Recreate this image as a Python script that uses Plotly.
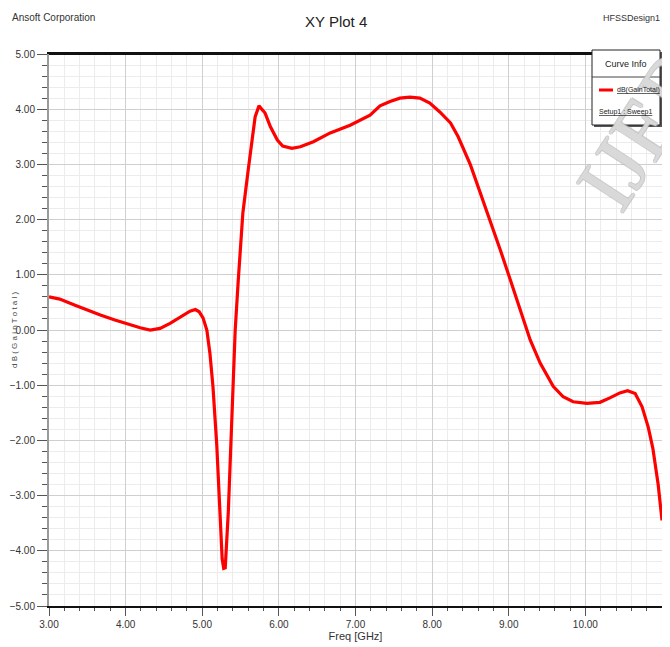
import plotly.graph_objects as go

freq = [3.00, 3.14, 3.34, 3.54, 3.67, 3.86, 4.06, 4.19, 4.32, 4.45, 4.58, 4.71, 4.84,
        4.91, 4.96, 5.01, 5.06, 5.10, 5.14, 5.19, 5.23, 5.26, 5.28, 5.30, 5.34, 5.39,
        5.43, 5.47, 5.53, 5.60, 5.65, 5.69, 5.74, 5.82, 5.89, 5.98, 6.05, 6.17, 6.28,
        6.45, 6.67, 6.93, 7.19, 7.32, 7.45, 7.58, 7.71, 7.84, 7.97, 8.10, 8.24, 8.34,
        8.50, 8.69, 8.89, 9.02, 9.15, 9.28, 9.41, 9.48, 9.58, 9.71, 9.84, 10.02, 10.19,
        10.32, 10.45, 10.55, 10.65, 10.74, 10.82, 10.88, 10.95, 11.00]
gain = [0.60, 0.56, 0.45, 0.34, 0.27, 0.18, 0.09, 0.04, 0.00, 0.03, 0.12, 0.23, 0.34,
        0.37, 0.33, 0.22, 0.00, -0.42, -1.03, -2.10, -3.30, -4.15, -4.32, -4.31, -3.30, -1.63,
        0.00, 0.90, 2.12, 2.90, 3.44, 3.86, 4.06, 3.93, 3.68, 3.44, 3.33, 3.29, 3.32,
        3.41, 3.57, 3.71, 3.89, 4.06, 4.14, 4.20, 4.22, 4.20, 4.11, 3.95, 3.75, 3.50,
        2.99, 2.26, 1.45, 0.91, 0.36, -0.18, -0.60, -0.78, -1.02, -1.21, -1.30, -1.33, -1.31,
        -1.23, -1.14, -1.10, -1.15, -1.39, -1.76, -2.14, -2.80, -3.45]

x_ticks = [3, 4, 5, 6, 7, 8, 9, 10, 11]
y_ticks = [-5, -4, -3, -2, -1, 0, 1, 2, 3, 4, 5]

FONT = "Liberation Sans Narrow, Arial Narrow, Liberation Sans, sans-serif"
OFF = 8  # page body margin offset
W, H = 670 - OFF, 647 - OFF
L, R, T, B = 49 - OFF, 8, 54 - OFF, 41
pw, ph = W - L - R, H - T - B


def px(x):
    return (x - OFF - L) / pw


def py(y):
    return (H - B - (y - OFF)) / ph


fig = go.Figure()
fig.add_trace(go.Scatter(x=freq, y=gain, mode="lines",
                         line=dict(color="#ff0000", width=3.2),
                         name="dB(GainTotal)", showlegend=False))

fig.update_layout(
    width=W, height=H, autosize=False,
    margin=dict(l=L, r=R, t=T, b=B, pad=0, autoexpand=False),
    paper_bgcolor="white", plot_bgcolor="white",
    font=dict(family=FONT, size=11, color="#333333"),
    xaxis=dict(range=[3, 11], tickvals=x_ticks, tickformat=".2f", automargin=False,
               showgrid=True, gridcolor="#cfcfcf", gridwidth=1,
               ticks="outside", ticklen=8, tickcolor="#555555", tickwidth=1,
               minor=dict(dtick=0.2, showgrid=True, gridcolor="#ececec",
                          ticks="outside", ticklen=3, tickcolor="#555555"),
               showline=True, linecolor="#111111", linewidth=2, mirror=True,
               zeroline=False,
               title=dict(text="Freq [GHz]", font=dict(size=11, family=FONT), standoff=0),
               tickfont=dict(size=10, family=FONT)),
    yaxis=dict(range=[-5, 5], tickvals=y_ticks, tickformat=".2f", automargin=False,
               showgrid=True, gridcolor="#cfcfcf", gridwidth=1,
               ticks="outside", ticklen=10, tickcolor="#555555", tickwidth=1,
               minor=dict(dtick=0.2, showgrid=True, gridcolor="#ececec",
                          ticks="outside", ticklen=5, tickcolor="#555555"),
               showline=True, linecolor="#9a9a9a", linewidth=2, mirror=True,
               zeroline=False,
               title=dict(text=""),
               tickfont=dict(size=10, family=FONT)),
)

# black top border over the plot
fig.add_shape(type="line", xref="paper", yref="paper", x0=0, x1=1, y0=1, y1=1,
              line=dict(color="#111111", width=2))

annotations = [
    dict(text="Ansoft Corporation", x=px(10), y=py(18), xanchor="left", yanchor="middle",
         font=dict(size=10, family=FONT, color="#333333")),
    dict(text="XY Plot 4", x=px(336), y=py(22), xanchor="center", yanchor="middle",
         font=dict(size=15, family=FONT, color="#222222")),
    dict(text="HFSSDesign1", x=px(662), y=py(18), xanchor="right", yanchor="middle",
         font=dict(size=9, family=FONT, color="#333333")),
    dict(text="d B ( G a i n T o t a l )", x=px(14), y=py(330), textangle=-90,
         xanchor="center", yanchor="middle",
         font=dict(size=8, family="Liberation Sans, sans-serif", color="#444444")),
    dict(text="IJERT", x=px(655), y=py(110), textangle=-57, xanchor="center", yanchor="middle",
         font=dict(size=84, family="Liberation Serif, serif", color="rgba(242,242,242,0.6)",
                   shadow="-1px 0 #b0b0b0, 1px 0 #b0b0b0, 0 -1px #b0b0b0, 0 1px #b0b0b0")),
]

# legend box (Curve Info)
fig.add_shape(type="rect", xref="paper", yref="paper",
              x0=px(594), x1=px(662), y0=py(127), y1=py(52),
              fillcolor="#555555", line=dict(width=0))
fig.add_shape(type="rect", xref="paper", yref="paper",
              x0=px(592), x1=px(660), y0=py(125), y1=py(50),
              fillcolor="white", line=dict(color="#222222", width=1))
fig.add_shape(type="line", xref="paper", yref="paper",
              x0=px(592), x1=px(660), y0=py(77), y1=py(77),
              line=dict(color="#444444", width=1))
fig.add_shape(type="line", xref="paper", yref="paper",
              x0=px(599), x1=px(613), y0=py(90), y1=py(90),
              line=dict(color="#ff0000", width=3))
annotations += [
    dict(text="Curve Info", x=px(626), y=py(64), xanchor="center", yanchor="middle",
         font=dict(size=9, family=FONT, color="#222222")),
    dict(text="dB(GainTotal)", x=px(615), y=py(90), xanchor="left", yanchor="middle",
         font=dict(size=7, family=FONT, color="#222222", lineposition="under")),
    dict(text="Setup1 : Sweep1", x=px(597), y=py(112), xanchor="left", yanchor="middle",
         font=dict(size=7, family=FONT, color="#222222", lineposition="under")),
]
for a in annotations:
    a.update(xref="paper", yref="paper", showarrow=False)
fig.update_layout(annotations=annotations)

fig.write_html("out.html")
